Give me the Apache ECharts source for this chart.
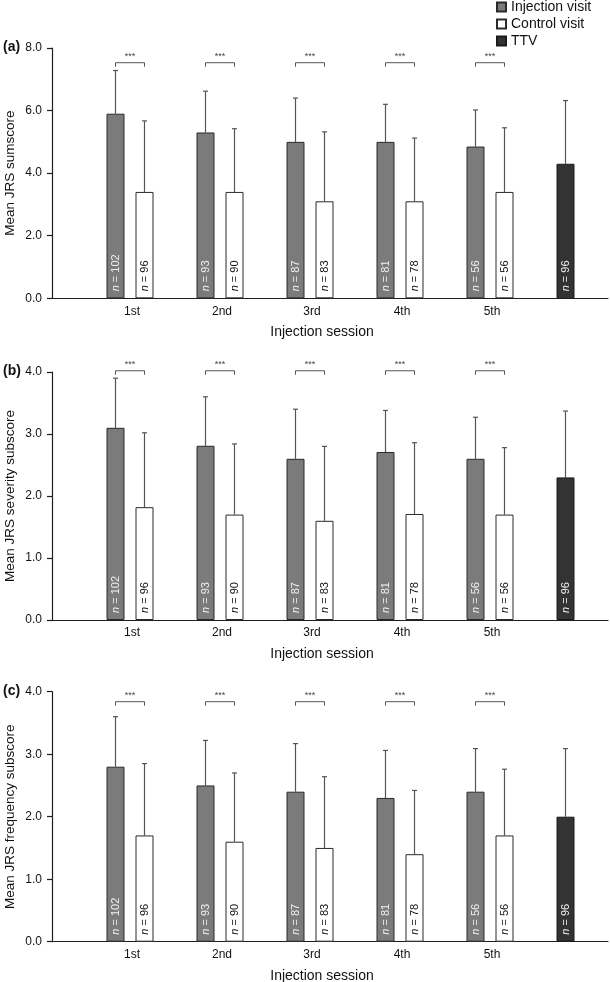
<!DOCTYPE html>
<html>
<head>
<meta charset="utf-8">
<script src="https://cdn.jsdelivr.net/npm/echarts@6/dist/echarts.min.js"></script>
<style>
html,body{margin:0;padding:0;background:#fff;}
#chart{width:610px;height:982px;}
</style>
</head>
<body>
<div id="chart"></div>
<script>
// ---- data ----
const categories = ['1st', '2nd', '3rd', '4th', '5th', ''];
const nInjection = [102, 93, 87, 81, 56];
const nControl = [96, 90, 83, 78, 56];
const nTTV = 96;
const significance = ['***', '***', '***', '***', '***'];

// (a) Mean JRS sumscore
const injMeanA = [5.9, 5.3, 5.0, 5.0, 4.85];
const injUpperA = [7.28, 6.62, 6.4, 6.2, 6.02];
const ctrlMeanA = [3.4, 3.4, 3.1, 3.1, 3.4];
const ctrlUpperA = [5.67, 5.42, 5.32, 5.12, 5.45];
const ttvMeanA = 4.3;
const ttvUpperA = 6.32;

// (b) Mean JRS severity subscore
const injMeanB = [3.1, 2.81, 2.6, 2.71, 2.6];
const injUpperB = [3.9, 3.6, 3.4, 3.38, 3.27];
const ctrlMeanB = [1.82, 1.7, 1.6, 1.71, 1.7];
const ctrlUpperB = [3.02, 2.84, 2.8, 2.86, 2.78];
const ttvMeanB = 2.3;
const ttvUpperB = 3.37;

// (c) Mean JRS frequency subscore
const injMeanC = [2.8, 2.5, 2.4, 2.3, 2.4];
const injUpperC = [3.6, 3.22, 3.17, 3.06, 3.09];
const ctrlMeanC = [1.7, 1.6, 1.5, 1.4, 1.7];
const ctrlUpperC = [2.85, 2.7, 2.64, 2.42, 2.76];
const ttvMeanC = 2.0;
const ttvUpperC = 3.09;

const panelData = [
  {tag: '(a)', yName: 'Mean JRS sumscore', inj: injMeanA, injUp: injUpperA, ctrl: ctrlMeanA, ctrlUp: ctrlUpperA, ttv: ttvMeanA, ttvUp: ttvUpperA},
  {tag: '(b)', yName: 'Mean JRS severity subscore', inj: injMeanB, injUp: injUpperB, ctrl: ctrlMeanB, ctrlUp: ctrlUpperB, ttv: ttvMeanB, ttvUp: ttvUpperB},
  {tag: '(c)', yName: 'Mean JRS frequency subscore', inj: injMeanC, injUp: injUpperC, ctrl: ctrlMeanC, ctrlUp: ctrlUpperC, ttv: ttvMeanC, ttvUp: ttvUpperC}
];

// ---- layout (styling, not data) ----
const layout = [
  {top: 48, height: 250.3, max: 8, interval: 2, bracket: 7.53},
  {top: 372, height: 248, max: 4, interval: 1, bracket: 4.02},
  {top: 691.7, height: 250, max: 4, interval: 1, bracket: 3.84}
];
const BAR_W = 18, BAR_GAP = 11;
const OFFSET = (BAR_W + BAR_GAP) / 2;
const AXIS_COLOR = '#1e1e1e';
const FONT = 'Liberation Sans, Arial, sans-serif';

const chart = echarts.init(document.getElementById('chart'), null, {renderer: 'canvas'});

const grid = [], xAxis = [], yAxis = [], series = [], title = [];

panelData.forEach((p, i) => {
  const L = layout[i];
  const ga = 2 * i, gb = 2 * i + 1;
  grid.push({left: 52, width: 556, top: L.top, height: L.height, containLabel: false, outerBoundsMode: 'none'});
  grid.push({left: 85, width: 540, top: L.top, height: L.height, containLabel: false, outerBoundsMode: 'none'});

  xAxis.push({
    type: 'value', gridIndex: ga, min: 0, max: 1,
    axisLine: {show: true, lineStyle: {color: AXIS_COLOR, width: 1.2}},
    axisTick: {show: false}, axisLabel: {show: false}, splitLine: {show: false},
    name: 'Injection session', nameLocation: 'middle', nameGap: 27, nameMoveOverlap: false,
    nameTextStyle: {fontSize: 14, color: '#111', fontFamily: FONT, padding: [0, 16, 0, 0]}
  });
  xAxis.push({
    type: 'category', gridIndex: gb, data: categories,
    axisLine: {show: false}, axisTick: {show: false}, splitLine: {show: false},
    axisLabel: {fontSize: 12, color: '#111', fontFamily: FONT, margin: 7, interval: 0, padding: [0, 0, 0, 4]}
  });

  yAxis.push({
    type: 'value', gridIndex: ga, min: 0, max: L.max, interval: L.interval,
    axisLine: {show: true, lineStyle: {color: AXIS_COLOR, width: 1.2}},
    axisTick: {show: true, length: 5, lineStyle: {color: AXIS_COLOR, width: 1.2}},
    axisLabel: {fontSize: 12, color: '#111', fontFamily: FONT, margin: 10, formatter: v => v.toFixed(1)},
    splitLine: {show: false},
    name: p.yName, nameLocation: 'middle', nameGap: 35, nameMoveOverlap: false,
    nameTextStyle: {fontSize: 13.5, color: '#111', fontFamily: FONT}
  });
  yAxis.push({type: 'value', gridIndex: gb, min: 0, max: L.max, interval: L.interval, show: false});

  title.push({text: p.tag, left: 3, top: L.top - 8, padding: 0, textStyle: {fontSize: 14, fontWeight: 'bold', color: '#111', fontFamily: FONT}});

  const labelBase = {
    show: true, position: 'insideBottom', rotate: 90, align: 'left', verticalAlign: 'middle',
    distance: 7, fontSize: 11, fontFamily: FONT
  };

  const common = {
    type: 'bar', xAxisIndex: gb, yAxisIndex: gb, barWidth: BAR_W,
    barGap: (BAR_GAP / BAR_W * 100) + '%', animation: false
  };

  series.push(Object.assign({}, common, {
    name: 'Injection visit', stack: 'slot' + i,
    data: p.inj.concat(['-']),
    itemStyle: {color: '#7b7b7b', borderColor: '#2a2a2a', borderWidth: 1},
    label: Object.assign({}, labelBase, {
      color: '#f0f0f0',
      formatter: q => '{i|n} = ' + nInjection[q.dataIndex],
      rich: {i: {fontStyle: 'italic', color: '#f0f0f0', fontSize: 11, fontFamily: FONT}}
    })
  }));
  series.push(Object.assign({}, common, {
    name: 'TTV', stack: 'slot' + i,
    data: ['-', '-', '-', '-', '-', p.ttv],
    itemStyle: {color: '#333333', borderColor: '#1a1a1a', borderWidth: 1},
    label: Object.assign({}, labelBase, {
      color: '#f0f0f0',
      formatter: q => '{i|n} = ' + nTTV,
      rich: {i: {fontStyle: 'italic', color: '#f0f0f0', fontSize: 11, fontFamily: FONT}}
    })
  }));
  series.push(Object.assign({}, common, {
    name: 'Control visit',
    data: p.ctrl.concat(['-']),
    itemStyle: {color: '#ffffff', borderColor: '#2a2a2a', borderWidth: 1},
    label: Object.assign({}, labelBase, {
      color: '#111',
      formatter: q => '{i|n} = ' + nControl[q.dataIndex],
      rich: {i: {fontStyle: 'italic', color: '#111', fontSize: 11, fontFamily: FONT}}
    })
  }));

  // error bars: [category index, mean, upper, side]
  const errData = [];
  p.inj.forEach((m, k) => errData.push([k, m, p.injUp[k], -1]));
  p.ctrl.forEach((m, k) => errData.push([k, m, p.ctrlUp[k], 1]));
  errData.push([5, p.ttv, p.ttvUp, -1]);

  series.push({
    type: 'custom', name: 'err' + i, xAxisIndex: gb, yAxisIndex: gb, animation: false, silent: true,
    dimensions: ['x', 'mean', 'upper', 'side'],
    encode: {x: 0, y: [1, 2]},
    data: errData, z: 1,
    renderItem: (params, api) => {
      const c = api.value(0);
      const side = api.value(3);
      const base = api.coord([c, api.value(1)]);
      const top = api.coord([c, api.value(2)]);
      const x = base[0] + side * OFFSET;
      const st = {stroke: '#555', lineWidth: 1.2};
      return {type: 'group', children: [
        {type: 'line', shape: {x1: x, y1: base[1], x2: x, y2: top[1]}, style: st},
        {type: 'line', shape: {x1: x - 2.5, y1: top[1], x2: x + 2.5, y2: top[1]}, style: st}
      ]};
    }
  });

  // significance brackets
  const brData = significance.map((s, k) => [k, L.bracket]);
  series.push({
    type: 'custom', name: 'sig' + i, xAxisIndex: gb, yAxisIndex: gb, animation: false, silent: true,
    encode: {x: 0, y: 1}, clip: false,
    data: brData,
    renderItem: (params, api) => {
      const pt = api.coord([api.value(0), api.value(1)]);
      const xl = pt[0] - OFFSET, xr = pt[0] + OFFSET, y = pt[1];
      return {type: 'group', children: [
        {type: 'polyline', shape: {points: [[xl, y + 4], [xl, y], [xr, y], [xr, y + 4]]}, style: {stroke: '#555', lineWidth: 1, fill: null}},
        {type: 'text', style: {text: significance[params.dataIndex], x: pt[0], y: y - 2, align: 'center', verticalAlign: 'bottom', fontSize: 9, fill: '#444', fontFamily: FONT}}
      ]};
    }
  });
});

const option = {
  backgroundColor: '#fff',
  animation: false,
  title: title,
  legend: {
    data: ['Injection visit', 'Control visit', 'TTV'],
    orient: 'vertical', left: 496, top: 0, padding: 0, itemWidth: 9, itemHeight: 9, itemGap: 3,
    icon: 'rect',
    textStyle: {fontSize: 14, color: '#111', fontFamily: FONT},
    selectedMode: false
  },
  grid: grid, xAxis: xAxis, yAxis: yAxis, series: series
};
chart.setOption(option);
</script>
</body>
</html>
